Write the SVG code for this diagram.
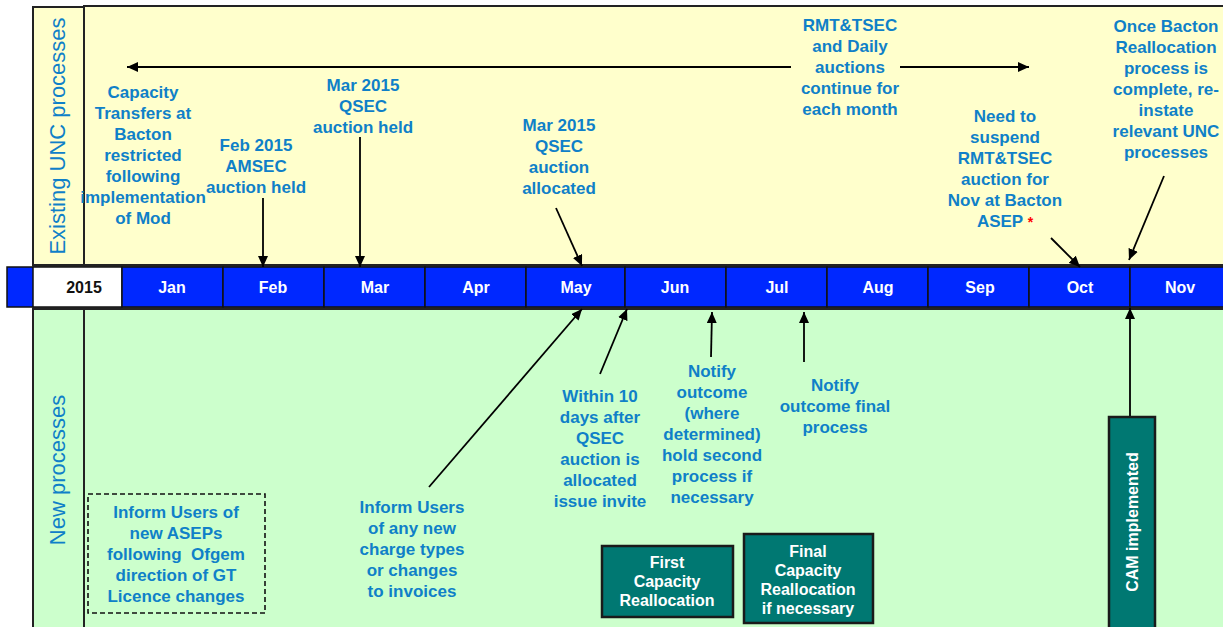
<svg xmlns="http://www.w3.org/2000/svg" width="1223" height="627" viewBox="0 0 1223 627">
<style>
.t{font-family:"Liberation Sans",Arial,sans-serif;font-weight:bold;font-size:17px;fill:#0F80C8;text-anchor:middle;white-space:pre}
.lab{font-family:"Liberation Sans",Arial,sans-serif;font-size:22px;fill:#0F80C8;text-anchor:middle}
.m{font-family:"Liberation Sans",Arial,sans-serif;font-weight:bold;font-size:16px;fill:#FFFFFF;text-anchor:middle}
.bx{font-family:"Liberation Sans",Arial,sans-serif;font-weight:bold;font-size:16px;fill:#FFFFFF;text-anchor:middle}
.cn{stroke:#000;stroke-width:1.8;fill:none;marker-end:url(#ah)}
.teal{fill:#007872;stroke:#1a1a1a;stroke-width:2.5}
.cell{fill:#0028FF;stroke:#111;stroke-width:1.5}
</style>
<defs>
<marker id="ah" markerUnits="userSpaceOnUse" markerWidth="12" markerHeight="10" refX="11" refY="5" orient="auto-start-reverse">
<path d="M0,0 L11,5 L0,10 z" fill="#000"/>
</marker>
</defs>
<rect width="1223" height="627" fill="#FFFFFF"/>

<g id="top-panel">
<rect x="84" y="6" width="1141" height="259" fill="#FFFFCC" stroke="#222" stroke-width="2"/>
<rect x="33" y="7" width="51" height="258" fill="#FFFFCC" stroke="#222" stroke-width="2"/>
<text class="lab" transform="translate(65,136) rotate(-90)">Existing UNC processes</text>
</g>

<g id="bottom-panel">
<rect x="84" y="309" width="1141" height="320" fill="#CCFFCC" stroke="#222" stroke-width="2"/>
<rect x="33" y="309" width="51" height="320" fill="#CCFFCC" stroke="#222" stroke-width="2"/>
<text class="lab" transform="translate(65,470) rotate(-90)">New processes</text>
</g>

<g id="timeline">
<rect x="7" y="267" width="1218" height="40" class="cell"/>
<rect x="33" y="267" width="89" height="40" fill="#FFFFFF" stroke="#111" stroke-width="1.5"/>
<text x="84" y="293" class="m" style="fill:#111">2015</text>
<rect x="122" y="267" width="101" height="40" class="cell"/>
<rect x="223" y="267" width="101" height="40" class="cell"/>
<rect x="324" y="267" width="101" height="40" class="cell"/>
<rect x="425" y="267" width="101" height="40" class="cell"/>
<rect x="526" y="267" width="99" height="40" class="cell"/>
<rect x="625" y="267" width="101" height="40" class="cell"/>
<rect x="726" y="267" width="101" height="40" class="cell"/>
<rect x="827" y="267" width="101" height="40" class="cell"/>
<rect x="928" y="267" width="101" height="40" class="cell"/>
<rect x="1029" y="267" width="101" height="40" class="cell"/>
<rect x="1130" y="267" width="95" height="40" class="cell"/>
<text x="172" y="293" class="m">Jan</text>
<text x="273" y="293" class="m">Feb</text>
<text x="375" y="293" class="m">Mar</text>
<text x="476" y="293" class="m">Apr</text>
<text x="576" y="293" class="m">May</text>
<text x="675" y="293" class="m">Jun</text>
<text x="777" y="293" class="m">Jul</text>
<text x="878" y="293" class="m">Aug</text>
<text x="980" y="293" class="m">Sep</text>
<text x="1080" y="293" class="m">Oct</text>
<text x="1180" y="293" class="m">Nov</text>
</g>

<g id="connectors">
<line x1="791" y1="67" x2="127" y2="67" class="cn"/>
<line x1="900" y1="67" x2="1029" y2="67" class="cn"/>
<line x1="263" y1="198" x2="263" y2="267" class="cn"/>
<line x1="360" y1="137" x2="360" y2="267" class="cn"/>
<line x1="556" y1="208" x2="582" y2="266" class="cn"/>
<line x1="1051" y1="238" x2="1080" y2="267" class="cn"/>
<line x1="1164" y1="176" x2="1129" y2="260" class="cn"/>
<line x1="429" y1="487" x2="582" y2="309" class="cn"/>
<line x1="600" y1="374" x2="627" y2="309" class="cn"/>
<line x1="711" y1="357" x2="712" y2="312" class="cn"/>
<line x1="804" y1="362" x2="804" y2="312" class="cn"/>
<line x1="1130" y1="417" x2="1130" y2="308" class="cn"/>
</g>

<g id="capacity-transfers">
<text class="t" x="143" y="98">Capacity</text>
<text class="t" x="143" y="119">Transfers at</text>
<text class="t" x="143" y="140">Bacton</text>
<text class="t" x="143" y="161">restricted</text>
<text class="t" x="143" y="182">following</text>
<text class="t" x="143" y="203">implementation</text>
<text class="t" x="143" y="224">of Mod</text>
</g>

<g id="feb-amsec">
<text class="t" x="256" y="151">Feb 2015</text>
<text class="t" x="256" y="172">AMSEC</text>
<text class="t" x="256" y="193">auction held</text>
</g>

<g id="mar-qsec-held">
<text class="t" x="363" y="91">Mar 2015</text>
<text class="t" x="363" y="112">QSEC</text>
<text class="t" x="363" y="133">auction held</text>
</g>

<g id="mar-qsec-allocated">
<text class="t" x="559" y="131">Mar 2015</text>
<text class="t" x="559" y="152">QSEC</text>
<text class="t" x="559" y="173">auction</text>
<text class="t" x="559" y="194">allocated</text>
</g>

<g id="rmt-daily">
<text class="t" x="850" y="31">RMT&amp;TSEC</text>
<text class="t" x="850" y="52">and Daily</text>
<text class="t" x="850" y="73">auctions</text>
<text class="t" x="850" y="94">continue for</text>
<text class="t" x="850" y="115">each month</text>
</g>

<g id="suspend-rmt">
<text class="t" x="1005" y="122">Need to</text>
<text class="t" x="1005" y="143">suspend</text>
<text class="t" x="1005" y="164">RMT&amp;TSEC</text>
<text class="t" x="1005" y="185">auction for</text>
<text class="t" x="1005" y="206">Nov at Bacton</text>
<text class="t" x="1005" y="227">ASEP <tspan style="fill:#FF0000;font-size:14px">*</tspan></text>
</g>

<g id="reinstate">
<text class="t" x="1166" y="32">Once Bacton</text>
<text class="t" x="1166" y="53">Reallocation</text>
<text class="t" x="1166" y="74">process is</text>
<text class="t" x="1166" y="95">complete, re-</text>
<text class="t" x="1166" y="116">instate</text>
<text class="t" x="1166" y="137">relevant UNC</text>
<text class="t" x="1166" y="158">processes</text>
</g>

<g id="inform-aseps">
<rect x="88" y="494" width="177" height="119" fill="none" stroke="#111" stroke-width="1.6" stroke-dasharray="5,3"/>
<text class="t" x="176" y="518">Inform Users of</text>
<text class="t" x="176" y="539">new ASEPs</text>
<text class="t" x="176" y="560">following  Ofgem</text>
<text class="t" x="176" y="581">direction of GT</text>
<text class="t" x="176" y="602">Licence changes</text>
</g>

<g id="inform-charges">
<text class="t" x="412" y="513">Inform Users</text>
<text class="t" x="412" y="534">of any new</text>
<text class="t" x="412" y="555">charge types</text>
<text class="t" x="412" y="576">or changes</text>
<text class="t" x="412" y="597">to invoices</text>
</g>

<g id="within-10-days">
<text class="t" x="600" y="402">Within 10</text>
<text class="t" x="600" y="423">days after</text>
<text class="t" x="600" y="444">QSEC</text>
<text class="t" x="600" y="465">auction is</text>
<text class="t" x="600" y="486">allocated</text>
<text class="t" x="600" y="507">issue invite</text>
</g>

<g id="notify-outcome">
<text class="t" x="712" y="377">Notify</text>
<text class="t" x="712" y="398">outcome</text>
<text class="t" x="712" y="419">(where</text>
<text class="t" x="712" y="440">determined)</text>
<text class="t" x="712" y="461">hold second</text>
<text class="t" x="712" y="482">process if</text>
<text class="t" x="712" y="503">necessary</text>
</g>

<g id="notify-final">
<text class="t" x="835" y="391">Notify</text>
<text class="t" x="835" y="412">outcome final</text>
<text class="t" x="835" y="433">process</text>
</g>

<g id="first-reallocation">
<rect x="602" y="546" width="131" height="71" class="teal"/>
<text class="bx" x="667" y="568">First</text>
<text class="bx" x="667" y="587">Capacity</text>
<text class="bx" x="667" y="606">Reallocation</text>
</g>

<g id="final-reallocation">
<rect x="744" y="534" width="129" height="89" class="teal"/>
<text class="bx" x="808" y="557">Final</text>
<text class="bx" x="808" y="576">Capacity</text>
<text class="bx" x="808" y="595">Reallocation</text>
<text class="bx" x="808" y="614">if necessary</text>
</g>

<g id="cam-implemented">
<rect x="1109" y="417" width="46" height="212" class="teal"/>
<text class="bx" transform="translate(1138,522) rotate(-90)">CAM implemented</text>
</g>
</svg>
